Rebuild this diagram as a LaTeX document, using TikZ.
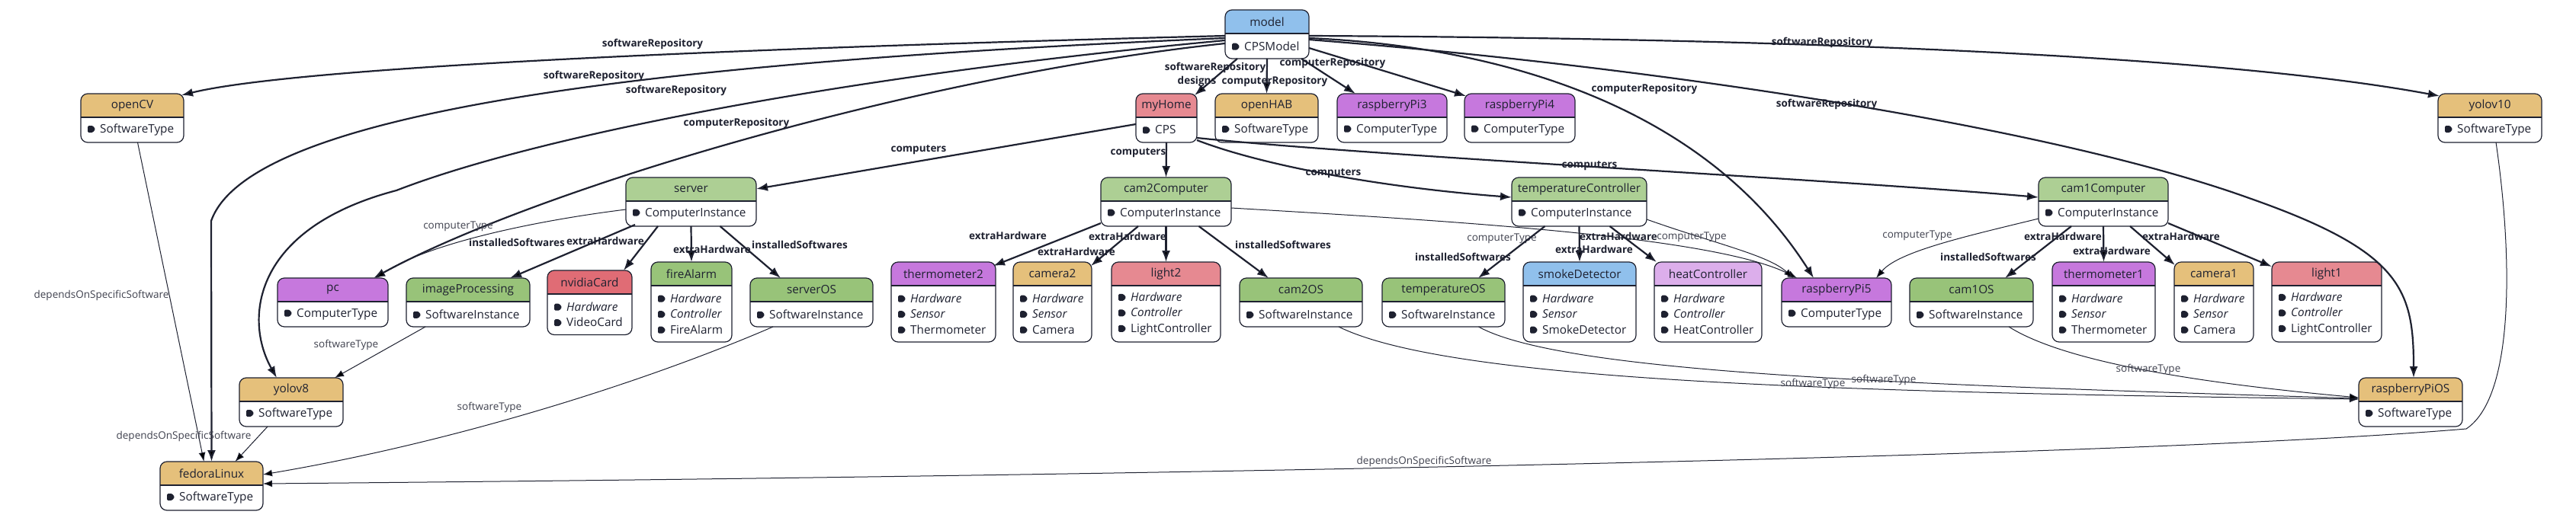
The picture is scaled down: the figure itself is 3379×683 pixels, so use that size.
\documentclass[tikz,border=0pt]{standalone}
\usepackage{fontspec}
\setmainfont{Open Sans}
\usetikzlibrary{arrows.meta,calc}
\definecolor{ink}{HTML}{1E2130}
\definecolor{tanC}{HTML}{E5C07B}
\definecolor{purpleC}{HTML}{C678DD}
\definecolor{lpurpleC}{HTML}{DCAEEB}
\definecolor{greenC}{HTML}{98C379}
\definecolor{lgreenC}{HTML}{ADCF94}
\definecolor{redC}{HTML}{E06C75}
\definecolor{lredC}{HTML}{E68991}
\definecolor{blueC}{HTML}{90C0EC}
\newcommand\tg{\tikz[x=1pt,y=1pt,baseline=-5pt]\fill[ink,rounded corners=1.3pt] (0,-4.5) -- (6.5,-4.5) -- (10,0) -- (6.5,4.5) -- (0,4.5) -- cycle;\hspace{6pt}}
\newcommand\cls[8]{%
  \pgfmathsetmacro\bodyh{12.5+20.5*#5}%
  \pgfmathsetmacro\toth{31+\bodyh}%
  \begin{scope}
    \clip[rounded corners=9pt] (#2,#3) rectangle ++(#4,\toth);
    \fill[#6] (#2,#3) rectangle ++(#4,31);
  \end{scope}
  \node[clsbox, minimum width=#4pt, minimum height=\toth pt, anchor=north west] (#1) at (#2,#3) {};
  \draw[ink, line width=1.1pt] (#2,#3+31) -- ++(#4,0);
  \node[clstitle] (#1-title) at (#2+#4/2,#3+15.5) {#7};
  \node[clsbody, anchor=west] (#1-body) at (#2+9,#3+31+\bodyh/2) {#8};
}
\begin{document}
\begin{tikzpicture}[x=1pt,y=-1pt,
  clsbox/.style={draw=ink, line width=1.2pt, rounded corners=9pt, inner sep=0pt, outer sep=0pt},
  clstitle/.style={font=\fontsize{15.3}{18}\selectfont, text=ink, inner sep=0pt},
  clsbody/.style={font=\fontsize{15.3}{20.5}\selectfont, text=ink, align=left, inner sep=0pt},
  cont/.style={draw=ink, line width=2.2pt, -{Latex[length=15pt,width=11pt]}},
  refe/.style={draw=ink, line width=1pt, -{Latex[length=12pt,width=9pt]}},
  clab/.style={font=\bfseries\fontsize{13.5}{16}\selectfont, text=ink, inner sep=1pt},
  rlab/.style={font=\fontsize{13.5}{16}\selectfont, text=ink!85!white, inner sep=1pt}]
\fill[white] (0,0) rectangle (3379,683);
\useasboundingbox (0,0) rectangle (3379,683);

% ---- classes ----
\cls{model}{1607}{13}{110}{1}{blueC}{model}{\tg CPSModel}
\cls{openCV}{106}{123}{135}{1}{tanC}{openCV}{\tg SoftwareType}
\cls{myHome}{1490}{123}{80}{1}{lredC}{myHome}{\tg CPS}
\cls{openHAB}{1594}{123}{135}{1}{tanC}{openHAB}{\tg SoftwareType}
\cls{raspberryPi3}{1754}{123}{144}{1}{purpleC}{raspberryPi3}{\tg ComputerType}
\cls{raspberryPi4}{1921}{123}{145}{1}{purpleC}{raspberryPi4}{\tg ComputerType}
\cls{yolov10}{3198}{123}{136}{1}{tanC}{yolov10}{\tg SoftwareType}

\cls{server}{821}{233}{171}{1}{lgreenC}{server}{\tg ComputerInstance}
\cls{cam2Computer}{1444}{233}{171}{1}{lgreenC}{cam2Computer}{\tg ComputerInstance}
\cls{temperatureController}{1983}{233}{177}{1}{lgreenC}{temperatureController}{\tg ComputerInstance}
\cls{cam1Computer}{2674}{233}{170}{1}{lgreenC}{cam1Computer}{\tg ComputerInstance}

\cls{pc}{364}{365}{145}{1}{purpleC}{pc}{\tg ComputerType}
\cls{imageProcessing}{533}{365}{162}{1}{greenC}{imageProcessing}{\tg SoftwareInstance}
\cls{nvidiaCard}{718}{355}{111}{2}{redC}{nvidiaCard}{\tg\textit{Hardware}\\\tg VideoCard}
\cls{fireAlarm}{854}{344}{106}{3}{greenC}{fireAlarm}{\tg\textit{Hardware}\\\tg\textit{Controller}\\\tg FireAlarm}
\cls{serverOS}{984}{365}{161}{1}{greenC}{serverOS}{\tg SoftwareInstance}
\cls{thermometer2}{1169}{344}{137}{3}{purpleC}{thermometer2}{\tg\textit{Hardware}\\\tg\textit{Sensor}\\\tg Thermometer}
\cls{camera2}{1329}{344}{103}{3}{tanC}{camera2}{\tg\textit{Hardware}\\\tg\textit{Sensor}\\\tg Camera}
\cls{light2}{1458}{344}{143}{3}{lredC}{light2}{\tg\textit{Hardware}\\\tg\textit{Controller}\\\tg LightController}
\cls{cam2OS}{1626}{365}{161}{1}{greenC}{cam2OS}{\tg SoftwareInstance}
\cls{temperatureOS}{1813}{365}{161}{1}{greenC}{temperatureOS}{\tg SoftwareInstance}
\cls{smokeDetector}{1998}{344}{148}{3}{blueC}{smokeDetector}{\tg\textit{Hardware}\\\tg\textit{Sensor}\\\tg SmokeDetector}
\cls{heatController}{2170}{344}{141}{3}{lpurpleC}{heatController}{\tg\textit{Hardware}\\\tg\textit{Controller}\\\tg HeatController}
\cls{raspberryPi5}{2337}{365}{144}{1}{purpleC}{raspberryPi5}{\tg ComputerType}
\cls{cam1OS}{2505}{365}{162}{1}{greenC}{cam1OS}{\tg SoftwareInstance}
\cls{thermometer1}{2692}{344}{135}{3}{purpleC}{thermometer1}{\tg\textit{Hardware}\\\tg\textit{Sensor}\\\tg Thermometer}
\cls{camera1}{2852}{344}{104}{3}{tanC}{camera1}{\tg\textit{Hardware}\\\tg\textit{Sensor}\\\tg Camera}
\cls{light1}{2980}{344}{144}{3}{lredC}{light1}{\tg\textit{Hardware}\\\tg\textit{Controller}\\\tg LightController}

\cls{yolov8}{314}{496}{136}{1}{tanC}{yolov8}{\tg SoftwareType}
\cls{raspberryPiOS}{3094}{496}{136}{1}{tanC}{raspberryPiOS}{\tg SoftwareType}
\cls{fedoraLinux}{210}{606}{135}{1}{tanC}{fedoraLinux}{\tg SoftwareType}

% ---- model edges ----
\draw[cont] ($(model.west)+(0,2)$) .. controls (900,65) and (380,90) .. ($(openCV.north east)+(-3,2)$) node[clab] (l1) at (856,58) {softwareRepository};
\draw[cont] ($(model.west)+(0,5)$) .. controls (900,80) and (330,140) .. (277,290) -- (fedoraLinux.north) node[clab] (l2) at (779,100) {softwareRepository};
\draw[cont] ($(model.west)+(0,8)$) .. controls (1100,100) and (700,180) .. (520,250) .. controls (330,300) and (320,420) .. ($(yolov8.north west)+(49,0)$) node[clab] (l3) at (887,119) {softwareRepository};
\draw[cont] ($(model.west)+(0,12)$) .. controls (1200,100) and (700,250) .. ($(pc.north east)+(-19,0)$) node[clab] (l4) at (966,162) {computerRepository};
\draw[cont] ($(model.south west)+(16,0)$) -- ($(myHome.north east)+(-3,2)$) node[clab] (l5) at (1570,107) {designs};
\draw[cont] (model.south) -- (openHAB.north) node[clab] (l6) at (1594,89) {softwareRepository};
\draw[cont] ($(model.south east)+(-10,0)$) -- ($(raspberryPi3.north west)+(24,0)$) node[clab] (l7) at (1672,107) {computerRepository};
\draw[cont] ($(model.east)+(0,18)$) -- ($(raspberryPi4.north west)+(2,3)$) node[clab] (l8) at (1748,83) {computerRepository};
\draw[cont] ($(model.east)+(0,5)$) .. controls (1950,60) and (2230,130) .. ($(raspberryPi5.north west)+(42,0)$) node[clab] (l9) at (2157,117) {computerRepository};
\draw[cont] ($(model.east)+(0,2)$) .. controls (2300,50) and (2900,70) .. ($(yolov10.north west)+(2,3)$) node[clab] (l10) at (2390,56) {softwareRepository};
\draw[cont] ($(model.east)+(0,7)$) .. controls (2200,90) and (2700,170) .. (2950,260) .. controls (3150,330) and (3166,380) .. ($(raspberryPiOS.north)+(4,0)$) node[clab] (l11) at (2396,137) {softwareRepository};

% ---- myHome edges ----
\draw[cont] ($(myHome.west)+(0,8)$) -- ($(server.north east)+(0,15)$) node[clab] (l12) at (1205,197) {computers};
\draw[cont] (myHome.south) -- (cam2Computer.north) node[clab] (l13) at (1493,201) {computers};
\draw[cont] ($(myHome.south east)+(0,-3)$) .. controls (1650,215) and (1800,245) .. ($(temperatureController.west)+(0,-6)$) node[clab] (l14) at (1749,228) {computers};
\draw[cont] ($(myHome.south east)+(0,-6)$) .. controls (1800,205) and (2400,235) .. ($(cam1Computer.west)+(0,-6)$) node[clab] (l15) at (2085,218) {computers};

% ---- server edges ----
\draw[refe] ($(server.west)+(0,10)$) .. controls (700,290) and (560,320) .. ($(pc.north east)+(-16,0)$) node[rlab] (l16) at (601,297) {computerType};
\draw[cont] ($(server.south west)+(12,-2)$) -- ($(imageProcessing.north east)+(-26,0)$) node[clab] (l17) at (678,318) {installedSoftwares};
\draw[cont] ($(server.south west)+(42,0)$) -- ($(nvidiaCard.north east)+(-11,0)$) node[clab] (l18) at (794,316) {extraHardware};
\draw[cont] (server.south) -- (fireAlarm.north) node[clab] (l19) at (934,327) {extraHardware};
\draw[cont] ($(server.south)+(38,0)$) -- ($(serverOS.north west)+(40,0)$) node[clab] (l20) at (1049,321) {installedSoftwares};

% ---- cam2Computer edges ----
\draw[cont] ($(cam2Computer.south west)+(0,-4)$) -- ($(thermometer2.north east)+(-3,5)$) node[clab] (l21) at (1322,309) {extraHardware};
\draw[cont] ($(cam2Computer.south west)+(49,0)$) -- ($(camera2.north east)+(-1,5)$) node[clab] (l22) at (1412,330) {extraHardware};
\draw[cont] (cam2Computer.south) -- (light2.north) node[clab] (l23) at (1479,310) {extraHardware};
\draw[cont] ($(cam2Computer.south)+(43,0)$) -- ($(cam2OS.north west)+(38,0)$) node[clab] (l24) at (1683,321) {installedSoftwares};
\draw[refe] ($(cam2Computer.east)+(0,8)$) .. controls (1900,290) and (2250,310) .. ($(raspberryPi5.north west)+(20,0)$) node[rlab] (l25) at (1970,313) {computerType};

% ---- temperatureController edges ----
\draw[refe] ($(temperatureController.east)+(0,23)$) .. controls (2250,320) and (2320,335) .. ($(raspberryPi5.north west)+(15,0)$) node[rlab] (l26) at (2219,311) {computerType};
\draw[cont] ($(temperatureController.south)+(-45,0)$) -- ($(temperatureOS.north east)+(-35,0)$) node[clab] (l27) at (1919,337) {installedSoftwares};
\draw[cont] (temperatureController.south) -- (smokeDetector.north) node[clab] (l28) at (2091,327) {extraHardware};
\draw[cont] ($(temperatureController.south)+(40,0)$) -- ($(heatController.north west)+(3,0)$) node[clab] (l29) at (2123,310) {extraHardware};

% ---- cam1Computer edges ----
\draw[refe] ($(cam1Computer.west)+(0,22)$) .. controls (2580,310) and (2490,330) .. ($(raspberryPi5.north east)+(-20,0)$) node[rlab] (l30) at (2515,309) {computerType};
\draw[cont] ($(cam1Computer.south)+(-42,0)$) -- ($(cam1OS.north east)+(-37,0)$) node[clab] (l31) at (2608,337) {installedSoftwares};
\draw[cont] (cam1Computer.south) -- (thermometer1.north) node[clab] (l32) at (2706,310) {extraHardware};
\draw[cont] ($(cam1Computer.south)+(35,0)$) -- ($(camera1.north west)+(1,4)$) node[clab] (l33) at (2770,329) {extraHardware};
\draw[cont] ($(cam1Computer.south east)+(0,-4)$) -- ($(light1.north west)+(0,6)$) node[clab] (l34) at (2861,310) {extraHardware};

% ---- software references ----
\draw[refe] ($(openCV.south)+(7,0)$) -- ($(fedoraLinux.north)+(-10,0)$) node[rlab] (l35) at (133,388) {dependsOnSpecificSoftware};
\draw[refe] ($(yolov8.south)+(-31,0)$) -- ($(fedoraLinux.north)+(31,0)$) node[rlab] (l36) at (241,573) {dependsOnSpecificSoftware};
\draw[refe] ($(imageProcessing.south west)+(25,0)$) -- ($(yolov8.north east)+(-11,0)$) node[rlab] (l37) at (454,453) {softwareType};
\draw[refe] ($(serverOS.south west)+(30,0)$) .. controls (850,500) and (600,580) .. ($(fedoraLinux.east)+(0,-15)$) node[rlab] (l38) at (642,535) {softwareType};
\draw[refe] ($(yolov10.south)+(8,0)$) .. controls (3295,330) and (3300,520) .. (3235,563) .. controls (2800,600) and (1500,625) .. ($(fedoraLinux.east)+(0,-3)$) node[rlab] (l39) at (1868,606) {dependsOnSpecificSoftware};
\draw[refe] ($(cam2OS.south east)+(-31,0)$) .. controls (1900,500) and (2400,515) .. ($(raspberryPiOS.west)+(0,-4)$) node[rlab] (l40) at (2378,504) {softwareType};
\draw[refe] ($(temperatureOS.south)+(46,0)$) .. controls (2050,490) and (2500,505) .. ($(raspberryPiOS.west)+(0,-5)$) node[rlab] (l41) at (2471,499) {softwareType};
\draw[refe] ($(cam1OS.south)+(49,0)$) .. controls (2700,470) and (2850,500) .. ($(raspberryPiOS.west)+(0,-6)$) node[rlab] (l42) at (2818,485) {softwareType};
\end{tikzpicture}
\end{document}
